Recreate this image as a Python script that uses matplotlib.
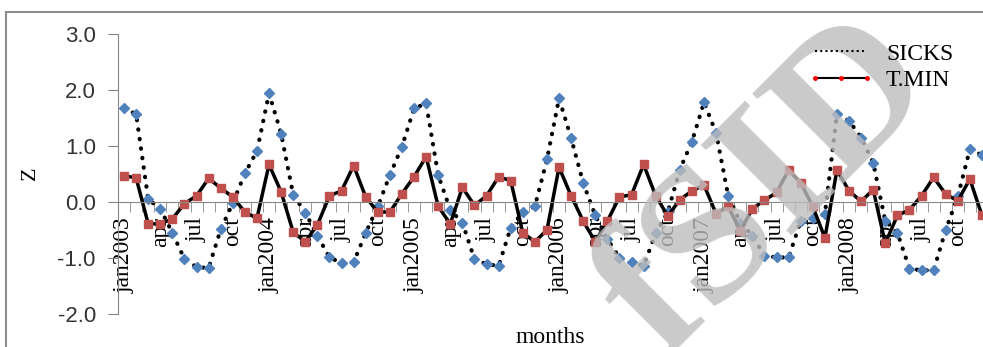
import numpy as np
import matplotlib
matplotlib.use('Agg')
import matplotlib.pyplot as plt
from matplotlib.lines import Line2D

plt.rcParams['font.family'] = ['Liberation Serif', 'DejaVu Serif']

# monthly z-scores, jan2003 .. dec2008
sicks = [1.67, 1.57, 0.05, -0.12, -0.55, -1.02, -1.16, -1.18, -0.49, -0.02, 0.51, 0.91,
         1.94, 1.22, 0.13, -0.19, -0.60, -0.99, -1.09, -1.08, -0.55, -0.08, 0.48, 0.99,
         1.67, 1.76, 0.48, -0.14, -0.37, -1.02, -1.11, -1.14, -0.46, -0.18, -0.08, 0.76,
         1.85, 1.14, 0.34, -0.24, -0.66, -1.00, -1.08, -1.14, -0.56, -0.18, 0.58, 1.08,
         1.78, 1.23, 0.11, -0.37, -0.60, -0.96, -0.99, -0.99, -0.34, -0.28, -0.22, 1.57,
         1.45, 1.15, 0.70, -0.34, -0.55, -1.19, -1.22, -1.22, -0.50, 0.10, 0.94, 0.84]

tmin = [0.47, 0.43, -0.39, -0.39, -0.30, -0.03, 0.11, 0.42, 0.25, 0.09, -0.18, -0.29,
        0.67, 0.18, -0.54, -0.71, -0.41, 0.11, 0.20, 0.65, 0.09, -0.18, -0.18, 0.15,
        0.45, 0.81, -0.08, -0.39, 0.26, -0.06, 0.11, 0.45, 0.38, -0.55, -0.71, -0.50,
        0.62, 0.11, -0.34, -0.71, -0.34, 0.09, 0.13, 0.67, 0.11, -0.25, 0.04, 0.20,
        0.30, -0.21, -0.08, -0.52, -0.12, 0.03, 0.17, 0.57, 0.34, -0.08, -0.64, 0.57,
        0.20, 0.01, 0.22, -0.74, -0.24, -0.14, 0.11, 0.44, 0.14, 0.02, 0.41, -0.24]

month_labels = ['jan2003', 'apr', 'jul', 'oct', 'jan2004', 'apr', 'jul', 'oct',
                'jan2005', 'apr', 'jul', 'oct', 'jan2006', 'apr', 'jul', 'oct',
                'jan2007', 'apr', 'jul', 'oct', 'jan2008', 'apr', 'jul', 'oct']
y_ticks = [-2, -1, 0, 1, 2, 3]
y_labels = ['-2.0', '-1.0', '0.0', '1.0', '2.0', '3.0']

W, H = 983, 347
fig = plt.figure(figsize=(W / 100, H / 100), dpi=100)
ax = fig.add_axes([118 / W, 33 / H, 870 / W, 280 / H])

x = np.arange(len(sicks))
ax.plot(x, sicks, color='black', lw=3, linestyle=(0, (0.1, 2.2)), dash_capstyle='round',
        marker='D', ms=5, mfc='#4F81BD', mec='#4F81BD')
ax.plot(x, tmin, color='black', lw=2.5, marker='s', ms=6, mfc='#C0504D', mec='#C0504D')

ax.set_xlim(-0.5, len(sicks) - 0.5)
ax.set_ylim(-2, 3)
ax.set_axisbelow(True)

for s in ['top', 'right']:
    ax.spines[s].set_visible(False)
ax.spines['left'].set_color('#868686')
ax.spines['bottom'].set_color('#868686')
ax.spines['bottom'].set_position(('data', 0))

ax.set_yticks(y_ticks)
ax.set_yticklabels(y_labels, fontfamily='Liberation Sans')
ax.tick_params(axis='y', direction='out', length=7, color='#868686', pad=9,
               labelsize=16, labelcolor='#333333')

ax.set_xticks(np.arange(0, len(sicks), 3))
ax.set_xticklabels(month_labels, rotation=90, va='top', ha='center')
ax.set_xticks(np.arange(-0.5, len(sicks), 1), minor=True)
ax.tick_params(axis='x', which='major', length=0, pad=11, labelsize=17)
ax.tick_params(axis='x', which='minor', direction='out', length=7, color='#868686')

handles = [Line2D([], [], color='black', lw=1.5, linestyle=(0, (1, 1.5))),
           Line2D([], [], color='black', lw=1.5, marker='o', ms=2.5,
                  mfc='red', mec='red')]
fig.legend(handles, ['SICKS', 'T.MIN'], loc='upper left',
           bbox_to_anchor=(808 / W, 1 - 43 / H), frameon=False, fontsize=17,
           borderpad=0, borderaxespad=0, handlelength=2.8, handletextpad=0.5,
           labelspacing=0.2, numpoints=3)

fig.text(30 / W, 1 - 173 / H, 'Z', rotation=90, ha='center', va='center', fontsize=16)
fig.text(550 / W, 4 / H, 'months', ha='center', va='baseline', fontsize=17)

# watermark, above the data but under the legend
fig.text(770 / W, 1 - 190 / H, 'fSID', rotation=45, ha='center', va='center',
         fontsize=140, fontweight='bold', color='#bdbdbd', alpha=0.8, zorder=3)

# outer frame
fig.add_artist(Line2D([6 / W, 6 / W], [0, 1 - 12 / H], transform=fig.transFigure,
                      color='#8c8c8c', lw=1.5))
fig.add_artist(Line2D([6 / W, 1], [1 - 12 / H, 1 - 12 / H], transform=fig.transFigure,
                      color='#8c8c8c', lw=1.5))

plt.savefig('out.png', dpi=100)
